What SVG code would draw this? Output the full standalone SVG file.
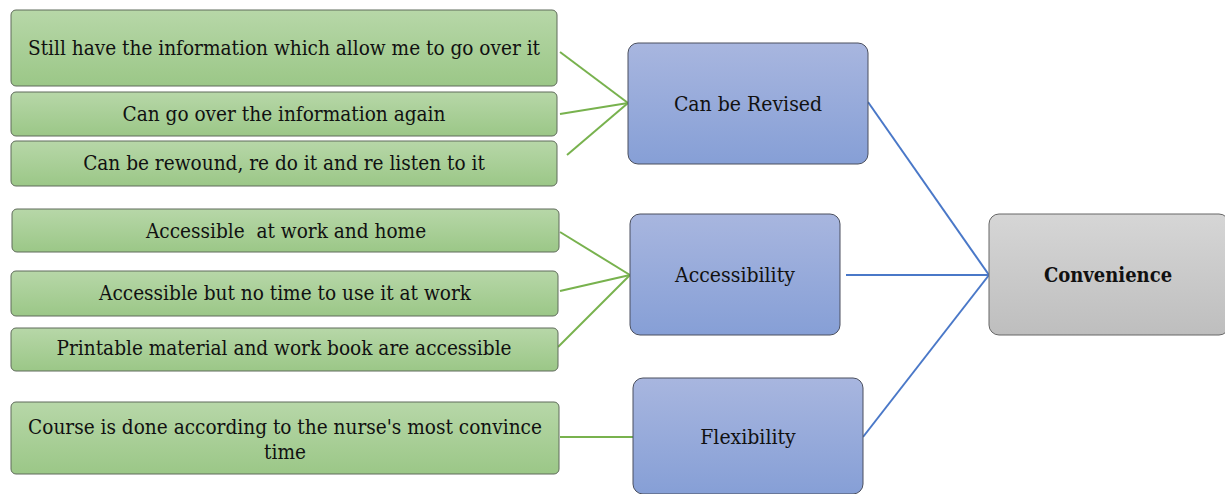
<svg xmlns="http://www.w3.org/2000/svg" width="1225" height="494" viewBox="0 0 1225 494" font-family="'DejaVu Serif Condensed', 'DejaVu Serif', serif">
<defs>
<linearGradient id="gGreen" x1="0" y1="0" x2="0" y2="1">
<stop offset="0" stop-color="#b7d7a8"/>
<stop offset="1" stop-color="#9bc787"/>
</linearGradient>
<linearGradient id="gBlue" x1="0" y1="0" x2="0" y2="1">
<stop offset="0" stop-color="#a8b6df"/>
<stop offset="1" stop-color="#869fd6"/>
</linearGradient>
<linearGradient id="gGrey" x1="0" y1="0" x2="0" y2="1">
<stop offset="0" stop-color="#d6d6d6"/>
<stop offset="1" stop-color="#bebebe"/>
</linearGradient>
</defs>
<style>
.g rect{fill:url(#gGreen);stroke:#5f6b5a;stroke-width:1}
.b rect{fill:url(#gBlue);stroke:#4a4f5e;stroke-width:1}
.c rect{fill:url(#gGrey);stroke:#666;stroke-width:1}
text{fill:#111;text-anchor:middle;font-stretch:condensed}
.g text{font-size:20.6px}
.b text{font-size:21px}
.c text{font-size:20px;font-weight:bold}
.lg{stroke:#78b24e;stroke-width:2;fill:none}
.lb{stroke:#4a78c8;stroke-width:2;fill:none}
</style>
<g id="connectors">
<line class="lg" x1="560" y1="52" x2="628" y2="103"/>
<line class="lg" x1="560" y1="114" x2="628" y2="103"/>
<line class="lg" x1="567" y1="155" x2="628" y2="103"/>
<line class="lg" x1="560" y1="232" x2="630" y2="275"/>
<line class="lg" x1="560" y1="291" x2="630" y2="275"/>
<line class="lg" x1="558" y1="347" x2="630" y2="275"/>
<line class="lg" x1="560" y1="437" x2="633" y2="437"/>
<line class="lb" x1="868" y1="102" x2="989" y2="275"/>
<line class="lb" x1="846" y1="275" x2="989" y2="275"/>
<line class="lb" x1="863" y1="437" x2="989" y2="275"/>
</g>
<g id="n1" class="g"><rect x="11" y="10" width="546" height="76" rx="5"/><text x="284" y="55">Still have the information which allow me to go over it</text></g>
<g id="n2" class="g"><rect x="11" y="92" width="546" height="44" rx="5"/><text x="284" y="121">Can go over the information again</text></g>
<g id="n3" class="g"><rect x="11" y="141" width="546" height="45" rx="5"/><text x="284" y="170">Can be rewound, re do it and re listen to it</text></g>
<g id="n4" class="g"><rect x="12" y="209" width="547" height="43" rx="5"/><text x="286" y="238" xml:space="preserve">Accessible  at work and home</text></g>
<g id="n5" class="g"><rect x="11" y="271" width="547" height="45" rx="5"/><text x="285" y="300">Accessible but no time to use it at work</text></g>
<g id="n6" class="g"><rect x="11" y="328" width="547" height="43" rx="5"/><text x="284" y="355">Printable material and work book are accessible</text></g>
<g id="n7" class="g"><rect x="11" y="402" width="548" height="72" rx="5"/><text x="285" y="434">Course is done according to the nurse's most convince</text><text x="285" y="459">time</text></g>
<g id="b1" class="b"><rect x="628" y="43" width="240" height="121" rx="10"/><text x="748" y="111">Can be Revised</text></g>
<g id="b2" class="b"><rect x="630" y="214" width="210" height="121" rx="10"/><text x="735" y="282">Accessibility</text></g>
<g id="b3" class="b"><rect x="633" y="378" width="230" height="116" rx="10"/><text x="748" y="444">Flexibility</text></g>
<g id="c1" class="c"><rect x="989" y="214" width="240" height="121" rx="10"/><text x="1108" y="282">Convenience</text></g>
</svg>
